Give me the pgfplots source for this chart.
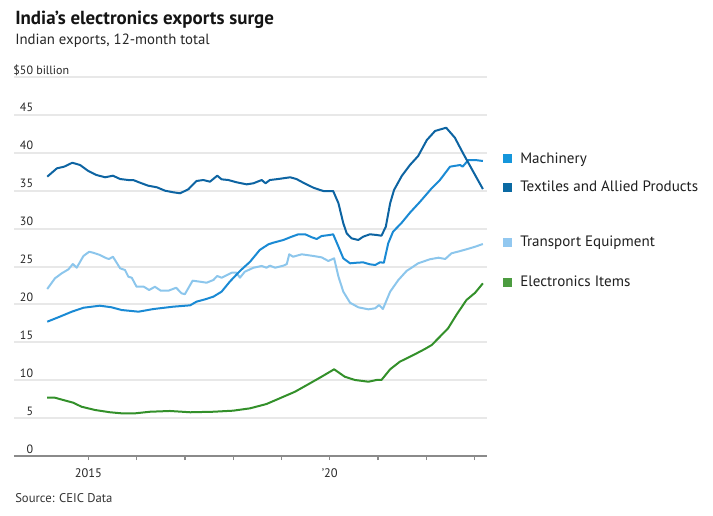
\documentclass[border=0pt]{standalone}
\usepackage{fontspec}
\setmainfont{PT Sans}
\usepackage{pgfplots}
\pgfplotsset{compat=1.18}
\definecolor{mach}{HTML}{1A8AD4}
\definecolor{machL}{HTML}{1596DB}
\definecolor{texti}{HTML}{0D64A2}
\definecolor{textiL}{HTML}{0B6AA3}
\definecolor{trans}{HTML}{8CC6EC}
\definecolor{transL}{HTML}{92C8F0}
\definecolor{elec}{HTML}{33902A}
\definecolor{elecL}{HTML}{4C9C40}
\definecolor{gridgray}{HTML}{E8E8E8}
\definecolor{axisgray}{HTML}{8A8A8A}
\begin{document}
\begin{tikzpicture}
\begin{scope}[x=0.75pt,y=0.75pt]
\useasboundingbox (0,0) rectangle (713,515);
\node[anchor=base west, inner sep=0pt, font=\fontsize{14.2}{16}\selectfont\bfseries, text=black!92] at (15,490) {India’s electronics exports surge};
\node[anchor=base west, inner sep=0pt, font=\fontsize{11.1}{13}\selectfont, text=black!85] at (15,470) {Indian exports, 12-month total};
\node[anchor=base west, inner sep=0pt, font=\fontsize{9.5}{11}\selectfont, text=black!80] at (15,12.3) {Source: CEIC Data};
% legend
\fill[machL] (502.7,351.7) rectangle ++(9,9);
\node[anchor=base west, inner sep=0pt, font=\fontsize{11.3}{13}\selectfont, text=black!88] at (520,351.7) {Machinery};
\fill[textiL] (502.7,323.3) rectangle ++(9,9);
\node[anchor=base west, inner sep=0pt, font=\fontsize{11.3}{13}\selectfont, text=black!88] at (520,324) {Textiles and Allied Products};
\fill[transL] (502.7,268.3) rectangle ++(9,9);
\node[anchor=base west, inner sep=0pt, font=\fontsize{11.3}{13}\selectfont, text=black!88] at (520,269) {Transport Equipment};
\fill[elecL] (502.7,228.3) rectangle ++(9,9);
\node[anchor=base west, inner sep=0pt, font=\fontsize{11.3}{13}\selectfont, text=black!88] at (520,229) {Electronics Items};
\end{scope}
\begin{axis}[
  at={(10.5pt,44.25pt)}, anchor=south west,
  scale only axis, width=354.75pt, height=284.25pt,
  xmin=2013.462, xmax=2023.255, ymin=0, ymax=50,
  axis lines*=left,
  x axis line style={-, draw=axisgray, line width=1.5pt},
  y axis line style={draw=none},
  ymajorgrids, grid style={draw=gridgray, line width=1.5pt},
  ytick={0,5,...,50},
  yticklabels={0,5,10,15,20,25,30,35,40,45,\$50\rlap{ billion}},
  ytick style={draw=none},
  yticklabel style={anchor=base east, inner sep=0pt, xshift=17.5pt, yshift=2.25pt, font=\fontsize{9}{11}\selectfont, text=black!85},
  xtick={2015,2016,...,2023},
  xticklabels={2015,,,,,’20,,,},
  xtick style={draw=axisgray, line width=1pt},
  tick align=outside, major tick length=3pt,
  xticklabel style={anchor=base, inner sep=0pt, yshift=-13pt, font=\fontsize{9.3}{11}\selectfont, text=black!85},
  /pgf/number format/assume math mode=true,
  every axis plot/.append style={line width=1.5pt, line join=round, mark=none},
]
% Transport Equipment
\addplot[trans] table {
2014.15 22.03
2014.31 23.44
2014.45 24.10
2014.59 24.63
2014.68 25.33
2014.76 24.84
2014.90 26.39
2015.02 26.95
2015.10 26.82
2015.24 26.52
2015.38 26.08
2015.43 25.99
2015.51 26.29
2015.66 24.76
2015.76 24.54
2015.83 23.65
2015.90 23.52
2016.00 22.33
2016.15 22.33
2016.26 21.90
2016.38 22.33
2016.50 21.81
2016.66 21.81
2016.82 22.20
2016.93 21.46
2017.00 21.35
2017.16 23.13
2017.31 23.00
2017.45 22.86
2017.59 23.22
2017.67 23.75
2017.76 23.52
2017.97 24.18
2018.07 24.18
2018.14 23.52
2018.24 24.31
2018.42 24.84
2018.59 25.07
2018.69 24.84
2018.76 25.11
2018.87 24.84
2019.04 25.11
2019.11 25.33
2019.16 26.61
2019.24 26.29
2019.42 26.61
2019.66 26.39
2019.83 26.21
2019.97 25.73
2020.09 26.08
2020.18 23.65
2020.28 21.68
2020.42 20.22
2020.59 19.62
2020.80 19.35
2020.94 19.49
2021.02 19.92
2021.10 19.39
2021.25 21.68
2021.42 23.22
2021.59 24.41
2021.83 25.42
2022.07 25.95
2022.25 26.16
2022.39 25.99
2022.52 26.74
2022.70 27.04
2022.83 27.27
2023.01 27.61
2023.17 27.97
};
% Machinery
\addplot[mach] table {
2014.15 17.72
2014.41 18.38
2014.66 19.04
2014.90 19.56
2015.24 19.83
2015.48 19.62
2015.69 19.26
2016.04 19.04
2016.35 19.39
2016.76 19.70
2017.11 19.88
2017.24 20.36
2017.42 20.67
2017.59 21.02
2017.76 21.68
2017.93 23.00
2018.14 24.41
2018.35 25.63
2018.55 27.18
2018.73 27.93
2018.83 28.14
2019.04 28.50
2019.21 28.93
2019.35 29.25
2019.49 29.25
2019.63 28.85
2019.73 28.63
2019.83 29.02
2020.00 29.16
2020.07 29.25
2020.18 27.61
2020.28 26.08
2020.42 25.42
2020.56 25.50
2020.69 25.55
2020.83 25.29
2020.94 25.20
2021.04 25.55
2021.12 25.50
2021.21 28.06
2021.31 29.59
2021.49 30.78
2021.66 32.10
2021.87 33.55
2022.11 35.32
2022.28 36.41
2022.49 38.17
2022.70 38.39
2022.75 38.17
2022.87 39.05
2023.01 39.05
2023.17 38.92
};
% Textiles and Allied Products
\addplot[texti] table {
2014.15 36.85
2014.35 37.95
2014.50 38.17
2014.67 38.69
2014.83 38.39
2015.00 37.60
2015.17 37.07
2015.35 36.77
2015.51 36.98
2015.66 36.54
2015.83 36.41
2015.93 36.41
2016.07 36.06
2016.24 35.66
2016.42 35.45
2016.59 35.00
2016.76 34.79
2016.90 34.66
2017.07 35.18
2017.24 36.28
2017.38 36.41
2017.52 36.19
2017.67 36.98
2017.76 36.50
2017.90 36.41
2018.07 36.11
2018.28 35.84
2018.42 35.98
2018.59 36.41
2018.67 35.98
2018.76 36.41
2018.93 36.54
2019.18 36.77
2019.31 36.54
2019.45 36.06
2019.66 35.40
2019.80 35.09
2019.87 34.96
2020.07 34.96
2020.18 33.34
2020.28 30.70
2020.35 29.38
2020.45 28.72
2020.59 28.50
2020.69 28.93
2020.83 29.25
2020.97 29.16
2021.07 29.06
2021.16 30.25
2021.25 33.34
2021.33 35.09
2021.49 36.94
2021.66 38.39
2021.83 39.58
2022.01 41.69
2022.18 42.88
2022.41 43.31
2022.59 41.99
2022.76 39.93
2022.97 37.51
2023.17 35.22
};
% Electronics Items
\addplot[elec] table {
2014.15 7.69
2014.31 7.69
2014.48 7.39
2014.69 7.03
2014.86 6.50
2015.14 6.07
2015.45 5.77
2015.69 5.63
2015.97 5.63
2016.28 5.84
2016.69 5.94
2017.11 5.77
2017.59 5.84
2018.00 5.98
2018.35 6.29
2018.69 6.86
2019.04 7.82
2019.28 8.48
2019.59 9.59
2019.83 10.46
2020.09 11.44
2020.31 10.46
2020.52 10.03
2020.80 9.80
2020.97 10.03
2021.07 10.03
2021.25 11.44
2021.45 12.44
2021.66 13.10
2021.80 13.55
2021.97 14.12
2022.11 14.64
2022.28 15.74
2022.45 16.85
2022.63 18.70
2022.83 20.58
2023.01 21.54
2023.17 22.78
};
\end{axis}
\end{tikzpicture}
\end{document}
